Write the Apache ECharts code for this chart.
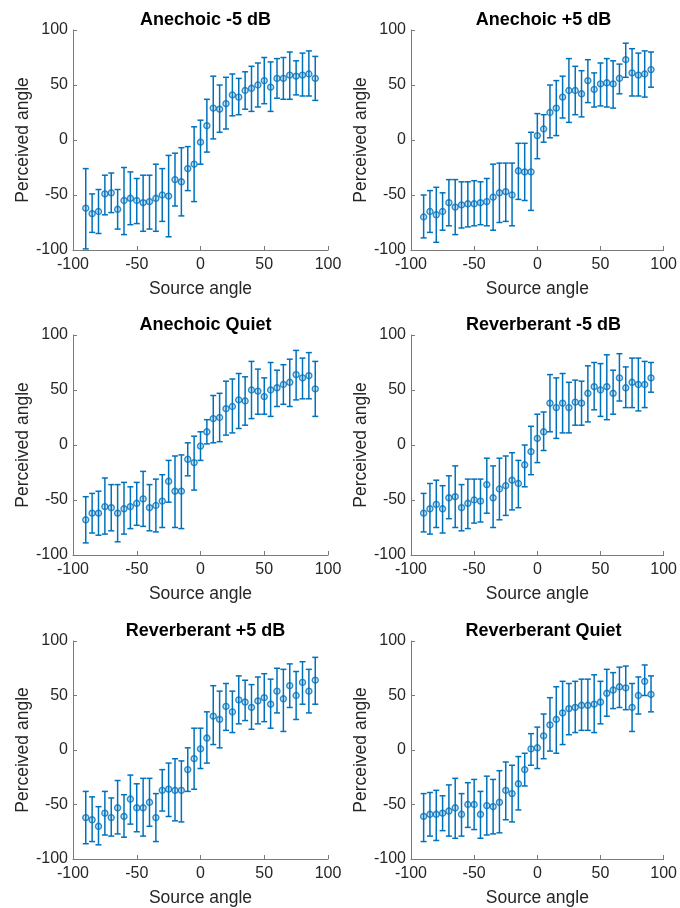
<!DOCTYPE html>
<html><head><meta charset="utf-8">
<script src="https://cdn.jsdelivr.net/npm/echarts@6/dist/echarts.min.js"></script>
<style>html,body{margin:0;padding:0;background:#fff}#c{width:680px;height:908px}</style>
</head><body><div id="c"></div>
<script>
const sourceAngles = [-90,-85,-80,-75,-70,-65,-60,-55,-50,-45,-40,-35,-30,-25,-20,-15,-10,-5,0,5,10,15,20,25,30,35,40,45,50,55,60,65,70,75,80,85,90];
const axisTicks = [-100,-50,0,50,100];
const panelTitles = ['Anechoic -5 dB','Anechoic +5 dB','Anechoic Quiet','Reverberant -5 dB','Reverberant +5 dB','Reverberant Quiet'];

const anechoicM5Mean  = [-62,-67,-65,-49,-48,-63,-55,-53,-55,-57,-56,-53,-50,-51,-36,-38,-26,-22,-2,13,29,28,33,41,39,45,47,50,54,48,56,56,59,58,59,60,56];
const anechoicM5Upper = [-26,-49,-45,-32,-30,-45,-25,-29,-35,-32,-32,-22,-26,-14,-12,-7,-6,12,18,37,58,50,57,60,56,62,67,70,75,71,74,75,80,72,79,81,76];
const anechoicM5Lower = [-99,-84,-85,-68,-66,-81,-86,-77,-76,-83,-81,-83,-74,-88,-60,-69,-46,-56,-22,-11,1,7,10,22,23,28,26,30,33,26,38,37,37,41,40,40,36];

const anechoicP5Mean  = [-70,-65,-68,-65,-57,-61,-59,-58,-58,-57,-56,-52,-48,-47,-50,-28,-29,-29,4,10,25,29,39,45,45,42,54,46,51,52,51,56,73,61,59,60,64];
const anechoicP5Upper = [-50,-46,-43,-48,-36,-36,-38,-38,-37,-38,-35,-22,-21,-21,-21,-3,-3,7,24,23,50,54,58,74,67,63,73,61,70,74,72,69,88,83,79,81,80];
const anechoicP5Lower = [-89,-84,-93,-82,-78,-86,-80,-79,-78,-77,-78,-82,-75,-74,-78,-54,-55,-64,-17,-2,2,4,20,16,23,21,34,30,31,30,29,42,57,40,40,39,48];

const anechoicQMean  = [-68,-62,-62,-56,-57,-62,-58,-56,-53,-49,-57,-55,-51,-33,-42,-42,-13,-16,-1,12,24,25,33,35,41,40,50,49,44,50,52,55,57,64,61,63,51];
const anechoicQUpper = [-47,-44,-42,-30,-36,-36,-34,-38,-34,-24,-36,-31,-27,-14,-10,-9,2,8,12,23,45,47,58,60,65,62,76,69,61,75,68,73,78,86,79,84,76];
const anechoicQLower = [-89,-80,-82,-81,-78,-88,-81,-76,-73,-74,-78,-79,-75,-52,-75,-76,-28,-41,-14,1,2,3,9,11,15,18,24,28,28,26,35,37,35,41,42,42,26];

const reverbM5Mean  = [-62,-58,-54,-58,-48,-47,-57,-53,-50,-51,-36,-48,-40,-37,-32,-35,-18,-6,6,12,38,34,38,34,39,38,47,53,50,53,47,61,52,57,55,55,61];
const reverbM5Upper = [-44,-35,-32,-37,-28,-19,-36,-31,-31,-31,-12,-19,-12,-10,-7,-14,0,17,28,30,64,61,65,57,59,58,72,75,74,82,68,83,71,79,79,76,75];
const reverbM5Lower = [-79,-81,-75,-80,-67,-75,-78,-76,-71,-70,-62,-75,-68,-64,-59,-57,-38,-27,-16,-5,12,6,11,11,18,18,21,32,26,23,28,40,34,34,31,34,48];

const reverbP5Mean  = [-62,-64,-70,-58,-62,-53,-61,-45,-53,-53,-48,-62,-37,-36,-37,-37,-18,-8,1,11,31,28,40,35,46,44,39,45,48,42,54,47,59,50,62,54,64];
const reverbP5Upper = [-38,-43,-52,-38,-44,-28,-41,-23,-31,-26,-26,-40,-18,-12,-8,-10,2,20,20,35,59,54,61,54,68,64,60,67,70,65,75,74,79,72,81,74,85];
const reverbP5Lower = [-86,-84,-87,-78,-79,-77,-80,-68,-75,-79,-70,-84,-56,-61,-65,-66,-38,-36,-17,-12,5,2,18,16,24,27,19,24,26,20,34,17,39,28,42,34,42];

const reverbQMean  = [-61,-59,-59,-58,-56,-53,-59,-50,-50,-59,-51,-52,-48,-37,-40,-31,-18,1,2,13,23,28,34,38,39,41,41,42,44,52,55,58,57,39,50,63,51];
const reverbQUpper = [-40,-39,-37,-42,-32,-26,-40,-30,-27,-38,-24,-27,-19,-11,-14,-6,-3,15,21,33,48,58,63,61,63,65,65,69,63,74,71,76,77,61,67,78,68];
const reverbQLower = [-84,-79,-83,-74,-79,-81,-79,-71,-73,-81,-78,-77,-76,-64,-66,-55,-33,-14,-17,-8,-1,-3,5,14,16,18,18,16,24,31,38,39,37,17,33,50,35];

const panels = [
  [anechoicM5Mean, anechoicM5Upper, anechoicM5Lower],
  [anechoicP5Mean, anechoicP5Upper, anechoicP5Lower],
  [anechoicQMean, anechoicQUpper, anechoicQLower],
  [reverbM5Mean, reverbM5Upper, reverbM5Lower],
  [reverbP5Mean, reverbP5Upper, reverbP5Lower],
  [reverbQMean, reverbQUpper, reverbQLower]
];

const FONT = "'Liberation Sans', Arial, Helvetica, sans-serif";
const BLUE = '#0072BD';
const AXC = '#7a7a7a';
const TXC = '#262626';
const gridLefts = [73, 411];
const gridTops = [30, 335, 641];
const GW = 255, GH = 220;

const grids = [], xAxes = [], yAxes = [], series = [], titles = [];
panels.forEach((p, i) => {
  const col = i % 2, row = Math.floor(i / 2);
  const left = gridLefts[col], top = gridTops[row];
  grids.push({left: left, top: top, width: GW, height: GH});
  titles.push({
    text: panelTitles[i], left: left + GW / 2, top: top - 24, textAlign: 'center',
    textStyle: {fontFamily: FONT, fontSize: 18, fontWeight: 'bold', color: '#000'}
  });
  const axisCommon = {
    type: 'value', gridIndex: i, min: -100, max: 100, interval: 50,
    axisLine: {show: true, onZero: false, lineStyle: {color: AXC, width: 1}},
    axisTick: {show: true, inside: true, length: 4, lineStyle: {color: AXC}},
    splitLine: {show: false},
    axisLabel: {color: TXC, fontFamily: FONT, fontSize: 16, showMinLabel: true, showMaxLabel: true,
      formatter: v => axisTicks.includes(v) ? String(v) : ''},
    nameLocation: 'middle',
    nameTextStyle: {color: TXC, fontFamily: FONT, fontSize: 17.5}
  };
  xAxes.push(Object.assign({}, axisCommon, {name: 'Source angle', nameGap: 30,
    axisLabel: Object.assign({}, axisCommon.axisLabel, {margin: 7})}));
  yAxes.push(Object.assign({}, axisCommon, {name: 'Perceived angle', nameGap: 41,
    axisLabel: Object.assign({}, axisCommon.axisLabel, {margin: 5})}));
  const [mean, upper, lower] = p;
  series.push({
    type: 'custom', xAxisIndex: i, yAxisIndex: i, z: 2, clip: false,
    data: sourceAngles.map((a, k) => [a, lower[k], upper[k]]),
    encode: {x: 0, y: [1, 2]},
    renderItem: function (params, api) {
      const x = api.value(0);
      const b = api.coord([x, api.value(1)]);
      const t = api.coord([x, api.value(2)]);
      const hw = 3;
      const st = {stroke: BLUE, lineWidth: 1.5, fill: null};
      return {type: 'group', children: [
        {type: 'line', shape: {x1: t[0], y1: t[1], x2: b[0], y2: b[1]}, style: st},
        {type: 'line', shape: {x1: t[0] - hw, y1: t[1], x2: t[0] + hw, y2: t[1]}, style: st},
        {type: 'line', shape: {x1: b[0] - hw, y1: b[1], x2: b[0] + hw, y2: b[1]}, style: st}
      ]};
    }
  });
  series.push({
    type: 'scatter', xAxisIndex: i, yAxisIndex: i, z: 3,
    data: sourceAngles.map((a, k) => [a, mean[k]]),
    symbol: 'circle', symbolSize: 6,
    itemStyle: {color: 'rgba(0,114,189,0.25)', borderColor: BLUE, borderWidth: 1.4},
    silent: true
  });
});

const chart = echarts.init(document.getElementById('c'), null, {renderer: 'canvas'});
chart.setOption({
  animation: false,
  backgroundColor: '#fff',
  title: titles,
  grid: grids,
  xAxis: xAxes,
  yAxis: yAxes,
  series: series
});
</script>
</body></html>
